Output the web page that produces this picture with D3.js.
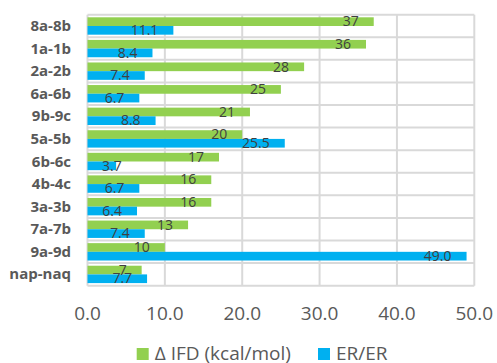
<!DOCTYPE html>
<html>
<head>
<meta charset="utf-8">
<script src="https://cdn.jsdelivr.net/npm/d3@7"></script>
<style>
  body { margin: 0; background: #fff; }
  text { font-family: "Open Sans", sans-serif; }
</style>
</head>
<body>
<div class="chart"></div>
<script>
var categories = ["8a-8b", "1a-1b", "2a-2b", "6a-6b", "9b-9c", "5a-5b", "6b-6c", "4b-4c", "3a-3b", "7a-7b", "9a-9d", "nap-naq"];
var ifdValues = [37, 36, 28, 25, 21, 20, 17, 16, 16, 13, 10, 7];
var erValues = [11.1, 8.4, 7.4, 6.7, 8.8, 25.5, 3.7, 6.7, 6.4, 7.4, 49.0, 7.7];
var seriesNames = ["\u0394 IFD (kcal/mol)", "ER/ER"];
var xTicks = [0, 10, 20, 30, 40, 50];

var chartWidth = 497;
var chartHeight = 363;
var colors = ["#92D050", "#00B0F0"];
var plotLeft = 87.5, plotRight = 474.3, plotTop = 14.7, plotBottom = 285.7;

var svg = d3
  .select(".chart")
  .append("svg")
  .attr("width", chartWidth)
  .attr("height", chartHeight);

var x = d3.scaleLinear().domain([0, 50]).range([plotLeft, plotRight]);
var y = d3.scaleBand().domain(categories).range([plotTop, plotBottom]);
var ySub = d3
  .scaleBand()
  .domain([0, 1])
  .range([0, y.bandwidth()])
  .paddingOuter(0.3);

var grid = svg.append("g").attr("stroke", "#D9D9D9").attr("stroke-width", 2);

// vertical gridlines
grid
  .selectAll(".vg")
  .data(xTicks)
  .enter()
  .append("line")
  .attr("x1", (d) => x(d))
  .attr("x2", (d) => x(d))
  .attr("y1", plotTop)
  .attr("y2", plotBottom);

// horizontal category gridlines
var boundaries = categories.map((c) => y(c)).concat([plotBottom]);
grid
  .selectAll(".hg")
  .data(boundaries)
  .enter()
  .append("line")
  .attr("x1", plotLeft)
  .attr("x2", plotRight)
  .attr("y1", (d) => d)
  .attr("y2", (d) => d);

var rows = categories.map(function (c, i) {
  return { key: c, values: [ifdValues[i], erValues[i]] };
});

var g = svg
  .append("g")
  .selectAll("g")
  .data(rows)
  .enter()
  .append("g")
  .attr("transform", (d) => "translate(0," + y(d.key) + ")");

g.selectAll("rect")
  .data((d) => d.values)
  .enter()
  .append("rect")
  .attr("x", x(0))
  .attr("y", (_, i) => ySub(i))
  .attr("width", (d) => x(d) - x(0))
  .attr("height", ySub.bandwidth())
  .style("fill", (_, i) => colors[i]);

g.selectAll("text.val")
  .data((d) => d.values)
  .enter()
  .append("text")
  .attr("class", "val")
  .attr("y", (_, i) => ySub(i) + ySub.bandwidth() / 2 + 1)
  .attr("dominant-baseline", "middle")
  .style("font-size", "14px")
  .style("fill", "#404040")
  .text((d, i) => (i === 0 ? d3.format("d")(d) : d3.format(".1f")(d)))
  .each(function (d) {
    var w = this.getComputedTextLength();
    var lx = Math.max(x(d) - 15 - w, x(0) + 14.5);
    d3.select(this).attr("x", lx);
  });

// category labels
svg
  .append("g")
  .selectAll("text")
  .data(categories)
  .enter()
  .append("text")
  .attr("x", 71)
  .attr("y", (d) => y(d) + y.bandwidth() / 2 + 1)
  .attr("text-anchor", "end")
  .attr("dominant-baseline", "middle")
  .style("font-size", "15px")
  .style("font-weight", "bold")
  .style("fill", "#595959")
  .text((d) => d);

// x tick labels
svg
  .append("g")
  .selectAll("text")
  .data(xTicks)
  .enter()
  .append("text")
  .attr("x", (d) => x(d))
  .attr("y", 315)
  .attr("text-anchor", "middle")
  .attr("dominant-baseline", "middle")
  .style("font-size", "19px")
  .style("fill", "#595959")
  .text((d) => d3.format(".1f")(d));

// legend
var legendPos = [136.7, 318];
var legend = svg
  .append("g")
  .selectAll("g")
  .data(seriesNames)
  .enter()
  .append("g")
  .attr("transform", (_, i) => "translate(" + legendPos[i] + ",348)");

legend
  .append("rect")
  .attr("width", 12)
  .attr("height", 12)
  .style("fill", (_, i) => colors[i]);

legend
  .append("text")
  .attr("x", 18)
  .attr("y", 6.5)
  .attr("dominant-baseline", "middle")
  .style("font-size", "19px")
  .style("fill", "#595959")
  .text((d) => d);
</script>
</body>
</html>
